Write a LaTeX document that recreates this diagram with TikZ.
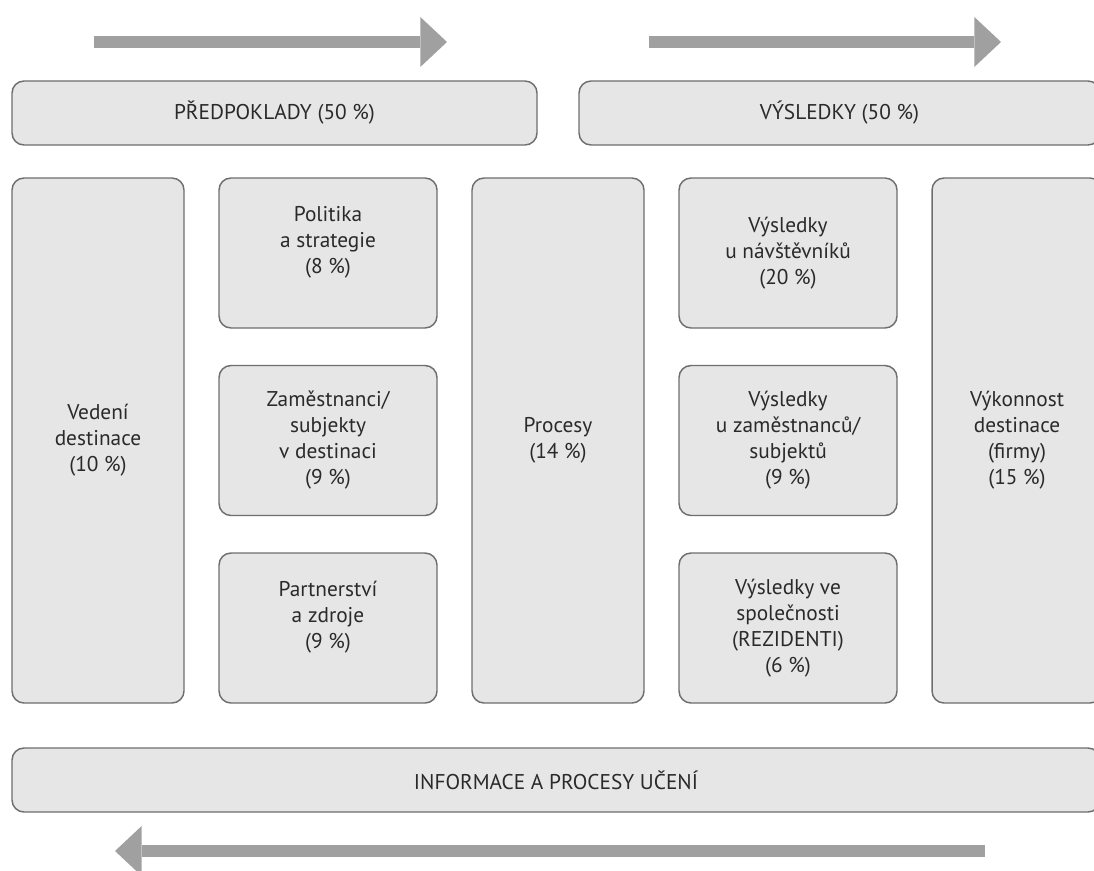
\documentclass[tikz,border=0pt]{standalone}
\usepackage{fontspec}
\setmainfont{PT Sans}
\usetikzlibrary{arrows.meta}
\definecolor{boxfill}{HTML}{E6E6E6}
\definecolor{boxline}{HTML}{6E6E6E}
\definecolor{arrowgray}{HTML}{A0A0A0}
\definecolor{textgray}{HTML}{2A2A2A}
\tikzset{
    pole/.style={draw=boxline, fill=boxfill, line width=1.1pt, rounded corners=9pt,
        align=center, inner sep=0pt, text=textgray, font=\fontsize{16}{19.5}\selectfont},
    wide/.style={pole, minimum height=48pt},
    tall/.style={pole, minimum width=129pt, minimum height=393.75pt},
    small/.style={pole, minimum width=163.5pt, minimum height=112.5pt},
    tok/.style={draw=arrowgray, line width=9pt,
        -{Triangle[length=20pt, width=37.5pt, line width=0pt]}}
}
\begin{document}
\begin{tikzpicture}[x=0.75pt,y=-0.75pt]
    \useasboundingbox (0,0) rectangle (1094,870);
    \clip (0,0) rectangle (1094,870);
    % sipky nahore a dole
    \coordinate (predA) at (94,42);
    \coordinate (predB) at (447,42);
    \coordinate (vysA) at (649,42);
    \coordinate (vysB) at (1001,42);
    \coordinate (infA) at (985,851);
    \coordinate (infB) at (115,851);
    \draw[tok] (predA) -- (predB);
    \draw[tok] (vysA) -- (vysB);
    \draw[tok] (infA) -- (infB);
    % hlavicky
    \node[wide, minimum width=393.75pt] (pred) at (274.5,113) {PŘEDPOKLADY (50 \%)};
    \node[wide, minimum width=390.75pt] (vys) at (839.5,113) {VÝSLEDKY (50 \%)};
    % kriteria
    \node[tall] (vedeni) at (98,440.5) {Vedení\\destinace\\(10 \%)};
    \node[small] (politika) at (328,253) {Politika\\a strategie\\(8 \%)\\\mbox{}};
    \node[small] (zam) at (328,440.5) {Zaměstnanci/\\subjekty\\v destinaci\\(9 \%)};
    \node[small] (partner) at (328,628) {Partnerství\\a zdroje\\(9 \%)\\\mbox{}};
    \node[tall] (procesy) at (558,440.5) {Procesy\\(14 \%)};
    \node[small] (navst) at (788,253) {Výsledky\\u návštěvníků\\(20 \%)};
    \node[small] (vzam) at (788,440.5) {Výsledky\\u zaměstnanců/\\subjektů\\(9 \%)};
    \node[small] (spol) at (788,628) {Výsledky ve\\společnosti\\(REZIDENTI)\\(6 \%)};
    \node[tall, minimum width=127.5pt] (vykon) at (1017,440.5) {Výkonnost\\destinace\\(firmy)\\(15 \%)};
    % uceni
    \node[wide, minimum width=816pt] (info) at (556,780) {INFORMACE A PROCESY UČENÍ};
\end{tikzpicture}
\end{document}
